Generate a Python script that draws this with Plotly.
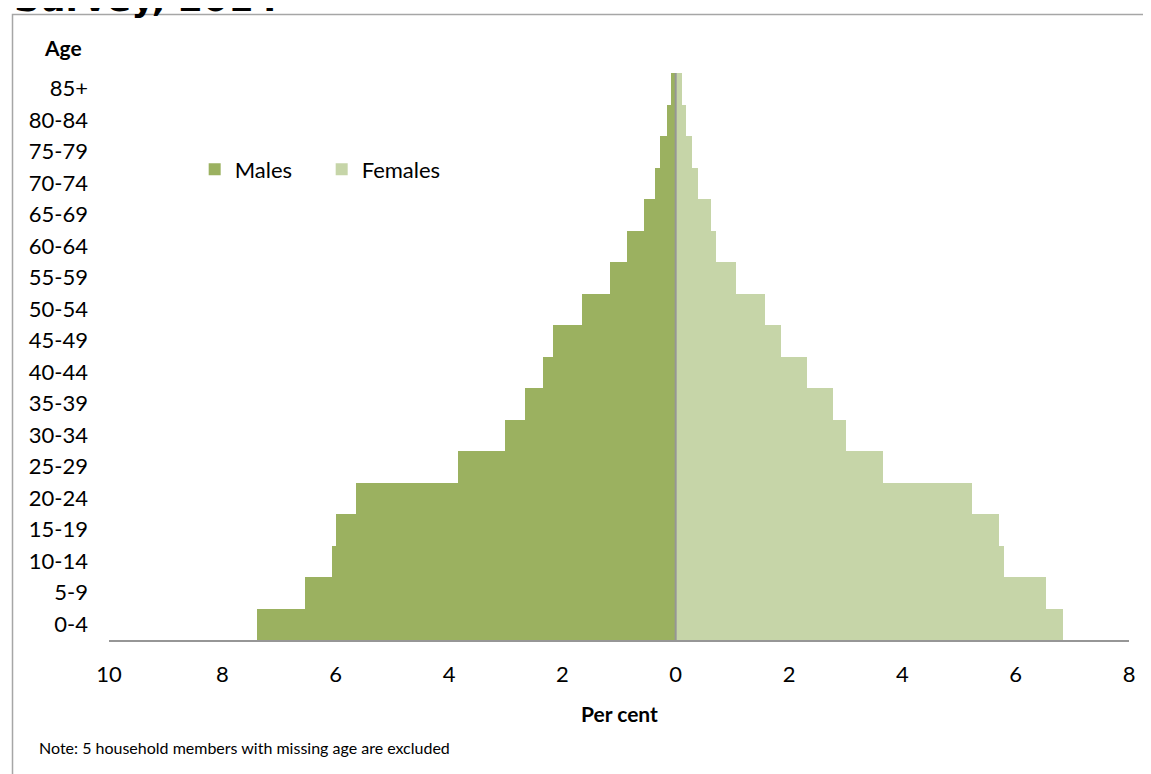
import plotly.graph_objects as go

age_groups = ["0-4", "5-9", "10-14", "15-19", "20-24", "25-29", "30-34", "35-39",
              "40-44", "45-49", "50-54", "55-59", "60-64", "65-69", "70-74",
              "75-79", "80-84", "85+"]
males = [7.39, 6.55, 6.07, 5.99, 5.65, 3.84, 3.01, 2.66, 2.34, 2.17, 1.65,
         1.16, 0.86, 0.56, 0.37, 0.28, 0.16, 0.09]
females = [6.83, 6.53, 5.79, 5.70, 5.23, 3.66, 3.01, 2.78, 2.31, 1.85, 1.58,
           1.07, 0.72, 0.63, 0.40, 0.28, 0.19, 0.12]
tick_vals = [-10, -8, -6, -4, -2, 0, 2, 4, 6, 8]
tick_text = ["10", "8", "6", "4", "2", "0", "2", "4", "6", "8"]

FONT = "Lato"
GREY = "#969696"

fig = go.Figure()
fig.add_trace(go.Bar(y=age_groups, x=[-v for v in males], orientation="h",
                     name="Males", marker=dict(color="#9BB160", line_width=0)))
fig.add_trace(go.Bar(y=age_groups, x=females, orientation="h",
                     name="Females", marker=dict(color="#C6D5A8", line_width=0)))

# zero line (vertical category axis in the original)
fig.add_shape(type="line", xref="x", yref="paper", x0=0, x1=0, y0=0, y1=1,
              line=dict(color=GREY, width=2))
# outer chart frame, partly off the page
fig.add_shape(type="rect", xref="paper", yref="paper",
              x0=-0.0946, x1=1.2, y0=-0.4, y1=1.1032,
              line=dict(color="#a6a6a6", width=1.5))

# title is cut off at the top of the page in the original
fig.add_annotation(text="Survey, 2014", xref="paper", yref="paper",
                   x=-0.095, y=1.091, xanchor="left", yanchor="bottom",
                   showarrow=False,
                   font=dict(family="DejaVu Sans", size=36, color="black", weight="bold"))
fig.add_annotation(text="<b>Age</b>", xref="paper", yref="paper",
                   x=-0.045, y=1.045, xanchor="center", yanchor="middle",
                   showarrow=False, font=dict(family=FONT, size=21, color="black"))
fig.add_annotation(text="<b>Per cent</b>", xref="paper", yref="paper",
                   x=0.5, y=-0.13, xanchor="center", yanchor="middle",
                   showarrow=False, font=dict(family=FONT, size=21, color="black"))
fig.add_annotation(text="Note: 5 household members with missing age are excluded",
                   xref="paper", yref="paper", x=-0.0706, y=-0.189,
                   xanchor="left", yanchor="middle", showarrow=False,
                   font=dict(family=FONT, size=16, color="black"))

# page body has an 8px margin, so the figure is shrunk by that much
fig.update_layout(
    width=1143, height=766,
    margin=dict(l=101, r=22, t=65, b=134),
    paper_bgcolor="white", plot_bgcolor="white",
    barmode="overlay", bargap=0,
    font=dict(family=FONT, size=22, color="black"),
    legend=dict(orientation="h", x=0.084, y=0.83, xanchor="left", yanchor="middle",
                font=dict(family=FONT, size=22), entrywidth=82,
                bgcolor="rgba(0,0,0,0)"),
)
fig.update_xaxes(range=[-10, 8], tickvals=tick_vals, ticktext=tick_text,
                 showgrid=False, zeroline=False, showline=True,
                 linecolor=GREY, linewidth=2, ticks="", ticklabelstandoff=14,
                 fixedrange=True)
fig.update_yaxes(categoryorder="array", categoryarray=age_groups,
                 showgrid=False, zeroline=False, showline=False,
                 ticks="", ticklabelstandoff=20, fixedrange=True)

fig.write_html("out.html")
